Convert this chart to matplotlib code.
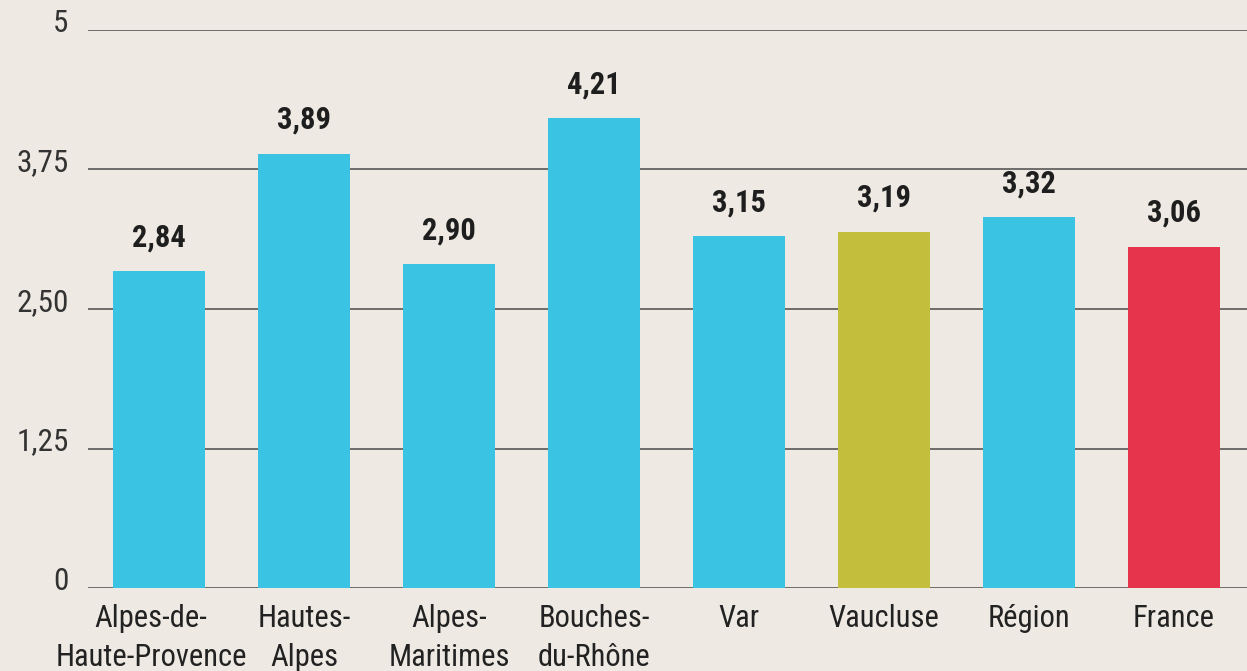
import matplotlib
matplotlib.use("Agg")
import matplotlib.pyplot as plt
from matplotlib import font_manager

# data
regions = ["Alpes-de-\nHaute-Provence", "Hautes-\nAlpes", "Alpes-\nMaritimes",
           "Bouches-\ndu-Rhône", "Var", "Vaucluse", "Région", "France"]
values = [2.84, 3.89, 2.90, 4.21, 3.15, 3.19, 3.32, 3.06]
value_labels = ["2,84", "3,89", "2,90", "4,21", "3,15", "3,19", "3,32", "3,06"]
yticks = [0, 1.25, 2.5, 3.75, 5]
ytick_labels = ["0", "1,25", "2,50", "3,75", "5"]

# horizontal nudge (points) of a category label, as laid out in the original
label_shift = [-5.8, 0, 0, 0, 0, 0, 0, 0]

cyan = "#3BC3E4"
colors = [cyan] * 5 + ["#C3BE3B", cyan, "#E6344C"]
bg = "#EEEAE3"

names = set(f.name for f in font_manager.fontManager.ttflist)
family = "DejaVu Sans"
for cand in ["Roboto Condensed", "Archivo Narrow", "Liberation Sans Narrow"]:
    if cand in names:
        family = cand
        break
plt.rcParams["font.family"] = [family, "DejaVu Sans"]

fig = plt.figure(figsize=(12.47, 6.71), dpi=100, facecolor=bg)
ax = fig.add_axes([88 / 1247, 1 - 588 / 671, (1247 - 88) / 1247, 558 / 671])
ax.set_facecolor(bg)

x = list(range(len(values)))
ax.bar(x, values, width=0.634, color=colors, zorder=3)
for xi, v, lab in zip(x, values, value_labels):
    ax.annotate(lab, (xi, v), xytext=(0, 18), textcoords="offset points",
                ha="center", va="baseline", fontsize=22, fontweight="bold",
                color="#1E1E1E")

ax.set_ylim(0, 5)
ax.set_xlim(-0.49, 7.503)
ax.set_yticks(yticks)
ax.set_yticklabels([])
for yv, lab in zip(yticks, ytick_labels):
    ax.annotate(lab, (0, yv), xycoords=ax.get_yaxis_transform(),
                xytext=(-14, -1.5), textcoords="offset points",
                ha="right", va="baseline", fontsize=22.5, color="#333333",
                annotation_clip=False)

# category labels, one text per line
ax.set_xticks(x)
ax.set_xticklabels([])
for xi, lab, dx in zip(x, regions, label_shift):
    for i, line in enumerate(lab.split("\n")):
        ax.annotate(line, (xi, 0), xycoords=ax.get_xaxis_transform(),
                    xytext=(dx, -28 - 28 * i), textcoords="offset points",
                    ha="center", va="baseline", fontsize=22, color="#222222",
                    annotation_clip=False)
ax.tick_params(axis="both", length=0)

ax.grid(axis="y", color="#4A4A4A", linewidth=1.1, zorder=0)
ax.grid(axis="x", visible=False)
for s in ax.spines.values():
    s.set_visible(False)

fig.savefig("out.png", dpi=100, facecolor=bg)
